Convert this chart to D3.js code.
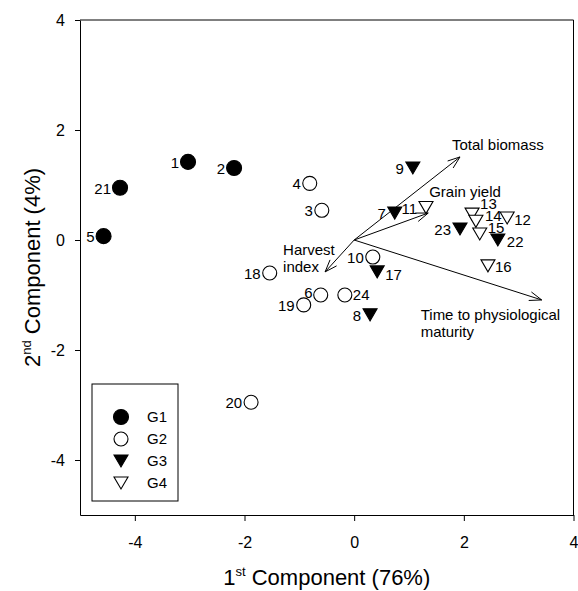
<!DOCTYPE html>
<html>
<head>
<meta charset="utf-8">
<script src="https://cdn.jsdelivr.net/npm/d3@7"></script>
<style>
  body { margin: 0; background: #fff; }
  svg { font-family: "Liberation Sans", Arial, sans-serif; }
</style>
</head>
<body>
<script>
// PCA biplot: genotype scores by group, with trait loadings drawn as arrows.

// Genotype scores.
var ids    = [1, 2, 21, 5,
              4, 3, 18, 6, 19, 24, 10, 20,
              9, 7, 8, 17, 23, 22,
              11, 13, 14, 12, 15, 16],
    groups = ['G1', 'G1', 'G1', 'G1',
              'G2', 'G2', 'G2', 'G2', 'G2', 'G2', 'G2', 'G2',
              'G3', 'G3', 'G3', 'G3', 'G3', 'G3',
              'G4', 'G4', 'G4', 'G4', 'G4', 'G4'],
    pc1    = [-3.03, -2.19, -4.27, -4.57,
              -0.81, -0.59, -1.54, -0.61, -0.92, -0.17, 0.34, -1.88,
              1.07, 0.74, 0.29, 0.42, 1.93, 2.62,
              1.31, 2.15, 2.22, 2.79, 2.29, 2.44],
    pc2    = [1.42, 1.31, 0.95, 0.07,
              1.03, 0.54, -0.60, -1.00, -1.18, -1.00, -0.31, -2.95,
              1.31, 0.49, -1.36, -0.58, 0.20, 0.00,
              0.59, 0.47, 0.34, 0.40, 0.11, -0.47];

// Trait loadings (arrow tips).
var traits = ['Total biomass', 'Grain yield', 'Harvest index', 'Time to physiological maturity'],
    load1  = [1.93, 1.35, -0.53, 3.42],
    load2  = [1.51, 0.49, -0.58, -1.09];

var groupNames = ['G1', 'G2', 'G3', 'G4'],
    xTicks = [-4, -2, 0, 2, 4],
    yTicks = [-4, -2, 0, 2, 4];

var width = 578,
    height = 591,
    margin = {top: 20, right: 4.5, bottom: 76, left: 80};

var svg = d3.select('body').append('svg')
    .attr('width', width)
    .attr('height', height);

var x = d3.scaleLinear().domain([-5, 4]).range([margin.left, width - margin.right]),
    y = d3.scaleLinear().domain([-5, 4]).range([height - margin.bottom, margin.top]);

// frame (top and right sides)
svg.append('path')
    .attr('d', 'M' + x(-5) + ',' + y(4) + 'H' + x(4) + 'V' + y(-5))
    .attr('fill', 'none')
    .attr('stroke', '#000');

var xAxis = svg.append('g')
    .attr('transform', 'translate(0,' + y(-5) + ')')
    .call(d3.axisBottom(x).tickValues(xTicks).tickFormat(d3.format('d'))
      .tickSizeInner(6).tickSizeOuter(0).tickPadding(16));

var yAxis = svg.append('g')
    .attr('transform', 'translate(' + x(-5) + ',0)')
    .call(d3.axisLeft(y).tickValues(yTicks).tickFormat(d3.format('d'))
      .tickSizeInner(5).tickSizeOuter(0).tickPadding(10));

[xAxis, yAxis].forEach(function (g) {
  g.selectAll('text').attr('font-size', 16).attr('fill', '#000')
    .attr('font-family', '"Liberation Sans", Arial, sans-serif')
    .text(function (d) { return d < 0 ? '-' + Math.abs(d) : d; });
  g.selectAll('line, path').attr('stroke', '#000');
});

// axis titles
var xt = svg.append('text')
    .attr('x', (x(-5) + x(4)) / 2)
    .attr('y', 585)
    .attr('text-anchor', 'middle')
    .attr('font-size', 22);
xt.append('tspan').text('1');
xt.append('tspan').attr('font-size', 13).attr('dy', -9).text('st');
xt.append('tspan').attr('dy', 9).text(' Component (76%)');

var yt = svg.append('text')
    .attr('transform', 'translate(40,' + (y(-5) + y(4)) / 2 + ') rotate(-90)')
    .attr('text-anchor', 'middle')
    .attr('font-size', 22);
yt.append('tspan').text('2');
yt.append('tspan').attr('font-size', 13).attr('dy', -9).text('nd');
yt.append('tspan').attr('dy', 9).text(' Component (4%)');

// marker shapes per group
var tri = 'M-7,-6L7,-6L0,6Z',
    symbolPath = {
      G1: d3.symbol().type(d3.symbolCircle).size(Math.PI * 7.5 * 7.5)(),
      G2: d3.symbol().type(d3.symbolCircle).size(Math.PI * 7 * 7)(),
      G3: tri,
      G4: tri
    },
    symbolFill = {G1: '#000', G2: '#fff', G3: '#000', G4: '#fff'};

// loading arrows
var arrowLen = 13, arrowAng = 20 * Math.PI / 180;
traits.forEach(function (t, i) {
  var x0 = x(0), y0 = y(0), x1 = x(load1[i]), y1 = y(load2[i]),
      a = Math.atan2(y1 - y0, x1 - x0),
      d = 'M' + x0 + ',' + y0 + 'L' + x1 + ',' + y1 +
          'M' + (x1 - arrowLen * Math.cos(a - arrowAng)) + ',' + (y1 - arrowLen * Math.sin(a - arrowAng)) +
          'L' + x1 + ',' + y1 +
          'L' + (x1 - arrowLen * Math.cos(a + arrowAng)) + ',' + (y1 - arrowLen * Math.sin(a + arrowAng));
  svg.append('path').attr('d', d).attr('fill', 'none').attr('stroke', '#000').attr('stroke-width', 1);
});

// trait labels, placed relative to the arrow tips
var traitLabel = {
  'Total biomass': {lines: ['Total biomass'], dx: -8, dy: -7},
  'Grain yield': {lines: ['Grain yield'], dx: 1, dy: -16},
  'Harvest index': {lines: ['Harvest', 'index'], dx: -42, dy: -17},
  'Time to physiological maturity': {lines: ['Time to physiological', 'maturity'], dx: -121, dy: 20}
};
traits.forEach(function (t, i) {
  var p = traitLabel[t];
  var txt = svg.append('text')
      .attr('font-size', 15)
      .attr('x', x(load1[i]) + p.dx)
      .attr('y', y(load2[i]) + p.dy);
  p.lines.forEach(function (l, k) {
    txt.append('tspan')
      .attr('x', x(load1[i]) + p.dx)
      .attr('dy', k === 0 ? 0 : 17)
      .text(l);
  });
});

// points
svg.append('g').selectAll('path')
  .data(ids)
  .join('path')
    .attr('transform', function (d, i) { return 'translate(' + x(pc1[i]) + ',' + y(pc2[i]) + ')'; })
    .attr('d', function (d, i) { return symbolPath[groups[i]]; })
    .attr('fill', function (d, i) { return symbolFill[groups[i]]; })
    .attr('stroke', '#000')
    .attr('stroke-width', 1.1);

// point labels: mostly to the left, a few to the right
var labelPlace = {
  13: [8, -5, 'start'], 14: [9, 0, 'start'], 15: [8, -1, 'start'],
  12: [7, 7, 'start'], 22: [9, 7, 'start'], 16: [7, 6, 'start'],
  17: [8, 8, 'start'], 24: [8, 5, 'start'], 6: [-8, 3, 'end']
};
svg.append('g').selectAll('text')
  .data(ids)
  .join('text')
    .attr('font-size', 15)
    .attr('x', function (d, i) { return x(pc1[i]) + (labelPlace[d] || [-9])[0]; })
    .attr('y', function (d, i) { return y(pc2[i]) + (labelPlace[d] || [0, 6])[1]; })
    .attr('text-anchor', function (d) { return (labelPlace[d] || [0, 0, 'end'])[2]; })
    .text(function (d) { return d; });

// legend
var legend = svg.append('g').attr('transform', 'translate(92,384)');
legend.append('rect')
    .attr('width', 86).attr('height', 117)
    .attr('fill', '#fff').attr('stroke', '#000');
var rows = legend.selectAll('g.row')
  .data(groupNames)
  .join('g')
    .attr('class', 'row')
    .attr('transform', function (d, i) { return 'translate(29,' + (33 + i * 22) + ')'; });
rows.append('path')
    .attr('d', function (d) { return symbolPath[d]; })
    .attr('fill', function (d) { return symbolFill[d]; })
    .attr('stroke', '#000')
    .attr('stroke-width', 1.1);
rows.append('text')
    .attr('x', 26)
    .attr('dy', '0.36em')
    .attr('font-size', 15)
    .text(function (d) { return d; });
</script>
</body>
</html>
